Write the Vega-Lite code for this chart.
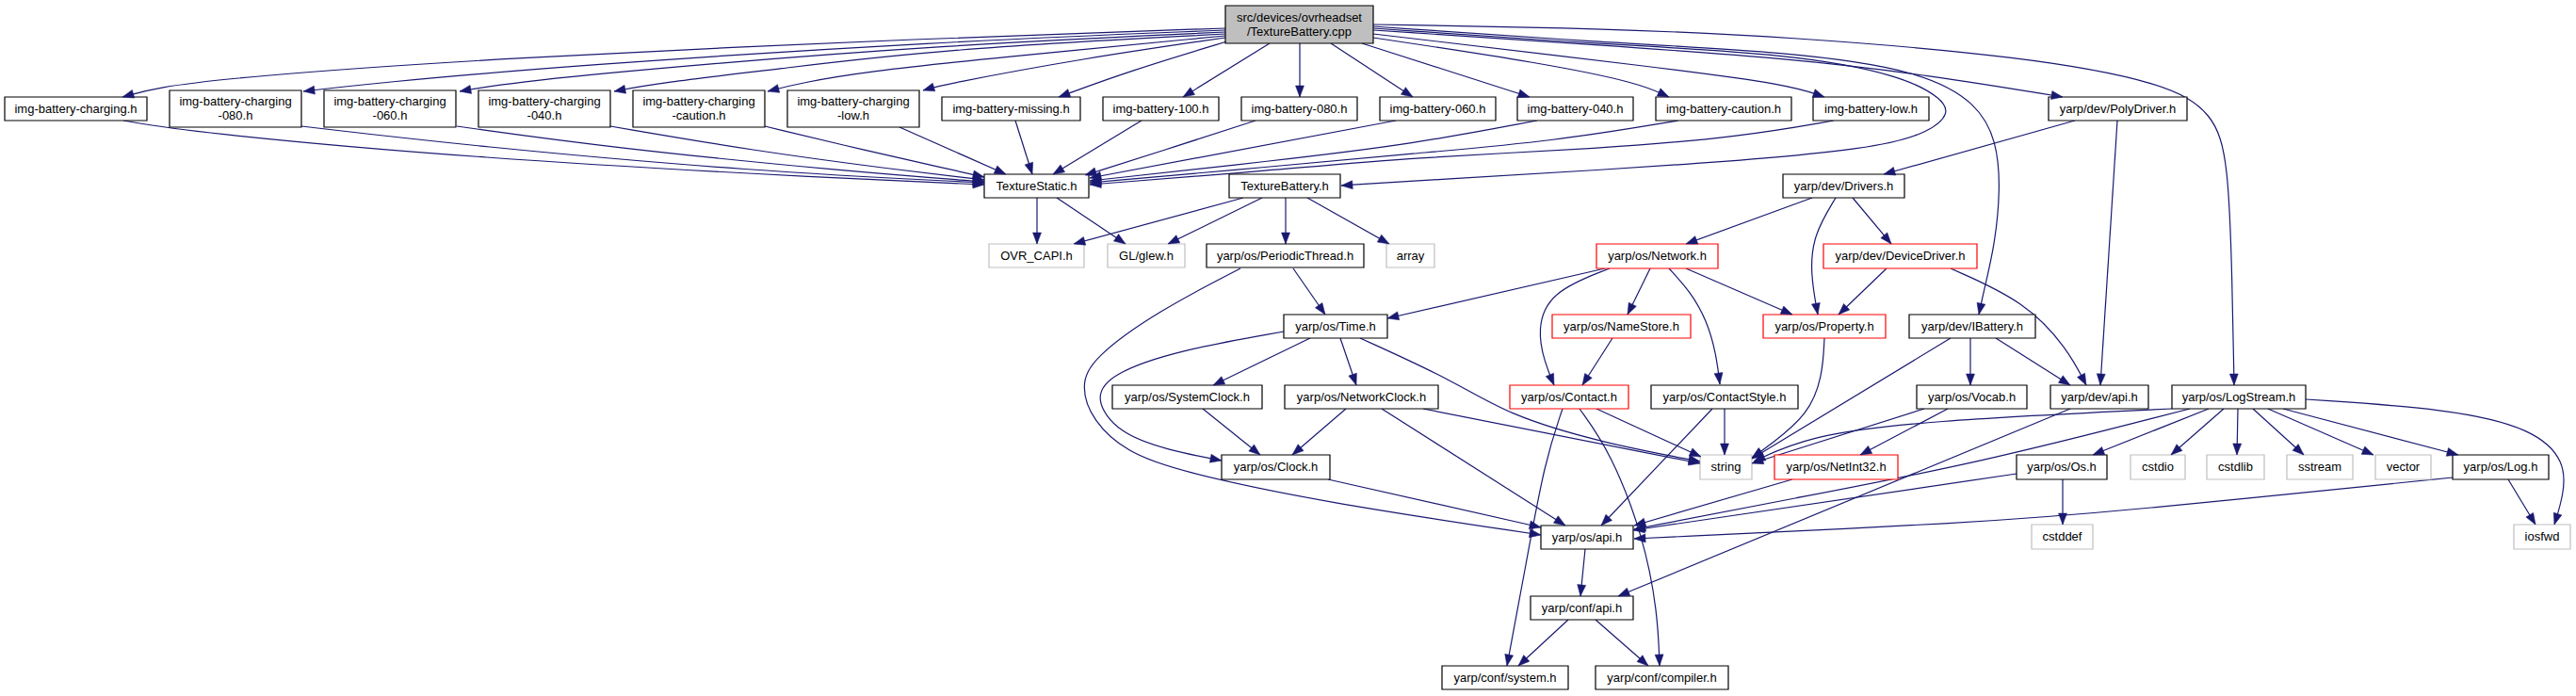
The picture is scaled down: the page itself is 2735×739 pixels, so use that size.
{
  "$schema": "https://vega.github.io/schema/vega-lite/v6.json",
  "width": 2735,
  "height": 739,
  "autosize": {"type": "fit", "contains": "padding"},
  "padding": 0,
  "background": "white",
  "config": {"view": {"stroke": null}},
  "datasets": {
    "nodes": [
      {"id": "root", "label": "src/devices/ovrheadset\n/TextureBattery.cpp", "x1": 1301, "x2": 1458, "y1": 6, "y2": 46, "kind": "root"},
      {"id": "c", "label": "img-battery-charging.h", "x1": 5, "x2": 156, "y1": 103, "y2": 128, "kind": "normal"},
      {"id": "c080", "label": "img-battery-charging\n-080.h", "x1": 180, "x2": 320, "y1": 96, "y2": 135, "kind": "normal"},
      {"id": "c060", "label": "img-battery-charging\n-060.h", "x1": 344, "x2": 484, "y1": 96, "y2": 135, "kind": "normal"},
      {"id": "c040", "label": "img-battery-charging\n-040.h", "x1": 508, "x2": 648, "y1": 96, "y2": 135, "kind": "normal"},
      {"id": "ccau", "label": "img-battery-charging\n-caution.h", "x1": 672, "x2": 812, "y1": 96, "y2": 135, "kind": "normal"},
      {"id": "clow", "label": "img-battery-charging\n-low.h", "x1": 836, "x2": 976, "y1": 96, "y2": 135, "kind": "normal"},
      {"id": "miss", "label": "img-battery-missing.h", "x1": 1000, "x2": 1147, "y1": 103, "y2": 128, "kind": "normal"},
      {"id": "b100", "label": "img-battery-100.h", "x1": 1171, "x2": 1294, "y1": 103, "y2": 128, "kind": "normal"},
      {"id": "b080", "label": "img-battery-080.h", "x1": 1318, "x2": 1441, "y1": 103, "y2": 128, "kind": "normal"},
      {"id": "b060", "label": "img-battery-060.h", "x1": 1465, "x2": 1588, "y1": 103, "y2": 128, "kind": "normal"},
      {"id": "b040", "label": "img-battery-040.h", "x1": 1611, "x2": 1734, "y1": 103, "y2": 128, "kind": "normal"},
      {"id": "bcau", "label": "img-battery-caution.h", "x1": 1758, "x2": 1902, "y1": 103, "y2": 128, "kind": "normal"},
      {"id": "blow", "label": "img-battery-low.h", "x1": 1925, "x2": 2048, "y1": 103, "y2": 128, "kind": "normal"},
      {"id": "poly", "label": "yarp/dev/PolyDriver.h", "x1": 2175, "x2": 2322, "y1": 103, "y2": 128, "kind": "normal"},
      {"id": "ts", "label": "TextureStatic.h", "x1": 1045, "x2": 1156, "y1": 185, "y2": 210, "kind": "normal"},
      {"id": "tb", "label": "TextureBattery.h", "x1": 1305, "x2": 1423, "y1": 185, "y2": 210, "kind": "normal"},
      {"id": "drv", "label": "yarp/dev/Drivers.h", "x1": 1893, "x2": 2022, "y1": 185, "y2": 210, "kind": "normal"},
      {"id": "ovr", "label": "OVR_CAPI.h", "x1": 1050, "x2": 1151, "y1": 259, "y2": 284, "kind": "system"},
      {"id": "glew", "label": "GL/glew.h", "x1": 1176, "x2": 1258, "y1": 259, "y2": 284, "kind": "system"},
      {"id": "pt", "label": "yarp/os/PeriodicThread.h", "x1": 1281, "x2": 1448, "y1": 259, "y2": 284, "kind": "normal"},
      {"id": "arr", "label": "array", "x1": 1472, "x2": 1523, "y1": 259, "y2": 284, "kind": "system"},
      {"id": "net", "label": "yarp/os/Network.h", "x1": 1695, "x2": 1824, "y1": 259, "y2": 285, "kind": "hidden"},
      {"id": "dd", "label": "yarp/dev/DeviceDriver.h", "x1": 1936, "x2": 2099, "y1": 259, "y2": 285, "kind": "hidden"},
      {"id": "time", "label": "yarp/os/Time.h", "x1": 1363, "x2": 1473, "y1": 334, "y2": 359, "kind": "normal"},
      {"id": "ns", "label": "yarp/os/NameStore.h", "x1": 1648, "x2": 1795, "y1": 334, "y2": 359, "kind": "hidden"},
      {"id": "prop", "label": "yarp/os/Property.h", "x1": 1872, "x2": 2002, "y1": 334, "y2": 359, "kind": "hidden"},
      {"id": "ibat", "label": "yarp/dev/IBattery.h", "x1": 2027, "x2": 2161, "y1": 334, "y2": 359, "kind": "normal"},
      {"id": "sc", "label": "yarp/os/SystemClock.h", "x1": 1181, "x2": 1340, "y1": 409, "y2": 434, "kind": "normal"},
      {"id": "nc", "label": "yarp/os/NetworkClock.h", "x1": 1364, "x2": 1527, "y1": 409, "y2": 434, "kind": "normal"},
      {"id": "ct", "label": "yarp/os/Contact.h", "x1": 1603, "x2": 1729, "y1": 409, "y2": 434, "kind": "hidden"},
      {"id": "cs", "label": "yarp/os/ContactStyle.h", "x1": 1753, "x2": 1909, "y1": 409, "y2": 434, "kind": "normal"},
      {"id": "voc", "label": "yarp/os/Vocab.h", "x1": 2035, "x2": 2152, "y1": 409, "y2": 434, "kind": "normal"},
      {"id": "dapi", "label": "yarp/dev/api.h", "x1": 2177, "x2": 2281, "y1": 409, "y2": 434, "kind": "normal"},
      {"id": "ls", "label": "yarp/os/LogStream.h", "x1": 2306, "x2": 2448, "y1": 409, "y2": 434, "kind": "normal"},
      {"id": "clk", "label": "yarp/os/Clock.h", "x1": 1297, "x2": 1412, "y1": 483, "y2": 509, "kind": "normal"},
      {"id": "str", "label": "string", "x1": 1805, "x2": 1860, "y1": 483, "y2": 509, "kind": "system"},
      {"id": "ni", "label": "yarp/os/NetInt32.h", "x1": 1884, "x2": 2015, "y1": 483, "y2": 509, "kind": "hidden"},
      {"id": "os", "label": "yarp/os/Os.h", "x1": 2141, "x2": 2237, "y1": 483, "y2": 509, "kind": "normal"},
      {"id": "cstdio", "label": "cstdio", "x1": 2262, "x2": 2320, "y1": 483, "y2": 509, "kind": "system"},
      {"id": "cstdlib", "label": "cstdlib", "x1": 2343, "x2": 2404, "y1": 483, "y2": 509, "kind": "system"},
      {"id": "sstream", "label": "sstream", "x1": 2428, "x2": 2498, "y1": 483, "y2": 509, "kind": "system"},
      {"id": "vector", "label": "vector", "x1": 2522, "x2": 2581, "y1": 483, "y2": 509, "kind": "system"},
      {"id": "log", "label": "yarp/os/Log.h", "x1": 2604, "x2": 2706, "y1": 483, "y2": 509, "kind": "normal"},
      {"id": "osapi", "label": "yarp/os/api.h", "x1": 1636, "x2": 1734, "y1": 558, "y2": 583, "kind": "normal"},
      {"id": "cstddef", "label": "cstddef", "x1": 2157, "x2": 2222, "y1": 557, "y2": 583, "kind": "system"},
      {"id": "iosfwd", "label": "iosfwd", "x1": 2669, "x2": 2729, "y1": 557, "y2": 583, "kind": "system"},
      {"id": "capi", "label": "yarp/conf/api.h", "x1": 1625, "x2": 1734, "y1": 633, "y2": 658, "kind": "normal"},
      {"id": "csys", "label": "yarp/conf/system.h", "x1": 1531, "x2": 1665, "y1": 707, "y2": 732, "kind": "normal"},
      {"id": "comp", "label": "yarp/conf/compiler.h", "x1": 1694, "x2": 1835, "y1": 707, "y2": 732, "kind": "normal"}
    ],
    "edges": [
      {"e": "r1", "xs": [1301, 1000, 520, 250, 165, 130], "ys": [30, 40, 62, 82, 93, 103]},
      {"e": "r2", "xs": [1301, 1000, 600, 400, 322], "ys": [32, 44, 70, 88, 97]},
      {"e": "r3", "xs": [1301, 1000, 700, 540, 488], "ys": [34, 48, 72, 88, 97]},
      {"e": "r4", "xs": [1301, 1000, 820, 700, 652], "ys": [36, 52, 74, 88, 97]},
      {"e": "r5", "xs": [1301, 1050, 920, 850, 815], "ys": [38, 62, 76, 88, 97]},
      {"e": "r6", "xs": [1301, 1150, 1000, 980], "ys": [40, 62, 90, 96]},
      {"e": "r7", "xs": [1306, 1200, 1124], "ys": [43, 75, 103]},
      {"e": "r8", "xs": [1348, 1256], "ys": [46, 103]},
      {"e": "r9", "xs": [1380, 1380], "ys": [46, 103]},
      {"e": "r10", "xs": [1413, 1500], "ys": [46, 103]},
      {"e": "r11", "xs": [1446, 1540, 1624], "ys": [46, 76, 103]},
      {"e": "r12", "xs": [1458, 1638, 1740, 1772], "ys": [40, 67, 88, 103]},
      {"e": "r13", "xs": [1458, 1765, 1900, 1937], "ys": [36, 72, 90, 103]},
      {"e": "r14", "xs": [1458, 1700, 1900, 2050, 2190], "ys": [32, 48, 62, 80, 103]},
      {"e": "r15", "xs": [1458, 1700, 1900, 2020, 2062, 2070, 2050, 1990, 1812, 1500, 1424], "ys": [30, 47, 57, 80, 105, 120, 140, 158, 174, 192, 197]},
      {"e": "r16", "xs": [1458, 1700, 1900, 2040, 2100, 2120, 2124, 2118, 2106, 2101], "ys": [28, 45, 55, 75, 110, 150, 200, 260, 310, 334]},
      {"e": "r17", "xs": [1458, 1700, 1900, 2150, 2300, 2350, 2366, 2370, 2372], "ys": [26, 30, 39, 60, 88, 120, 170, 300, 409]},
      {"e": "c1", "xs": [131, 200, 500, 900, 1045], "ys": [128, 140, 168, 190, 196]},
      {"e": "c2", "xs": [320, 500, 800, 1045], "ys": [134, 155, 182, 194]},
      {"e": "c3", "xs": [485, 650, 900, 1045], "ys": [134, 157, 182, 193]},
      {"e": "c4", "xs": [648, 800, 950, 1045], "ys": [134, 160, 180, 191]},
      {"e": "c5", "xs": [812, 920, 1000, 1045], "ys": [134, 160, 178, 188]},
      {"e": "c6", "xs": [955, 1068], "ys": [135, 185]},
      {"e": "m1", "xs": [1078, 1096], "ys": [128, 185]},
      {"e": "b1", "xs": [1212, 1118], "ys": [128, 185]},
      {"e": "b2", "xs": [1333, 1250, 1152], "ys": [128, 155, 186]},
      {"e": "b3", "xs": [1482, 1157], "ys": [128, 189]},
      {"e": "b4", "xs": [1632, 1500, 1350, 1157], "ys": [128, 153, 171, 192]},
      {"e": "b5", "xs": [1782, 1650, 1500, 1350, 1157], "ys": [128, 150, 163, 177, 194]},
      {"e": "b6", "xs": [1947, 1850, 1700, 1500, 1350, 1157], "ys": [128, 145, 158, 167, 181, 196]},
      {"e": "t1", "xs": [1101, 1101], "ys": [210, 259]},
      {"e": "t2", "xs": [1122, 1195], "ys": [210, 259]},
      {"e": "t3", "xs": [1320, 1140], "ys": [210, 259]},
      {"e": "t4", "xs": [1340, 1240], "ys": [210, 259]},
      {"e": "t5", "xs": [1365, 1365], "ys": [210, 259]},
      {"e": "t6", "xs": [1388, 1475], "ys": [210, 259]},
      {"e": "d1", "xs": [1924, 1790], "ys": [210, 259]},
      {"e": "d2", "xs": [1949, 1925, 1922, 1930], "ys": [210, 250, 290, 334]},
      {"e": "d3", "xs": [1967, 2008], "ys": [210, 259]},
      {"e": "p1", "xs": [2203, 2000], "ys": [128, 185]},
      {"e": "p2", "xs": [2248, 2230], "ys": [128, 409]},
      {"e": "dd1", "xs": [2003, 1952], "ys": [285, 334]},
      {"e": "dd2", "xs": [2071, 2150, 2195, 2215], "ys": [285, 320, 370, 409]},
      {"e": "n1", "xs": [1704, 1473], "ys": [285, 338]},
      {"e": "n2", "xs": [1709, 1645, 1632, 1640, 1650], "ys": [285, 310, 350, 385, 409]},
      {"e": "n3", "xs": [1752, 1728], "ys": [285, 334]},
      {"e": "n4", "xs": [1772, 1795, 1812, 1822, 1826], "ys": [285, 310, 340, 375, 408]},
      {"e": "n5", "xs": [1790, 1903], "ys": [285, 334]},
      {"e": "ns1", "xs": [1712, 1680], "ys": [359, 409]},
      {"e": "pt1", "xs": [1373, 1407], "ys": [285, 334]},
      {"e": "pt2", "xs": [1317, 1230, 1160, 1147, 1160, 1196, 1250, 1402, 1636], "ys": [285, 330, 380, 410, 447, 480, 500, 533, 568]},
      {"e": "tm1", "xs": [1363, 1250, 1179, 1161, 1187, 1240, 1297], "ys": [352, 372, 397, 423, 460, 478, 489]},
      {"e": "tm2", "xs": [1391, 1288], "ys": [359, 409]},
      {"e": "tm3", "xs": [1423, 1440], "ys": [359, 409]},
      {"e": "tm4", "xs": [1444, 1545, 1600, 1700, 1805], "ys": [359, 405, 440, 470, 490]},
      {"e": "sc1", "xs": [1277, 1338], "ys": [434, 483]},
      {"e": "nc1", "xs": [1429, 1372], "ys": [434, 483]},
      {"e": "nc2", "xs": [1467, 1662], "ys": [434, 558]},
      {"e": "nc3", "xs": [1511, 1805], "ys": [434, 492]},
      {"e": "ct1", "xs": [1695, 1806], "ys": [434, 485]},
      {"e": "ct2", "xs": [1659, 1640, 1620, 1600], "ys": [434, 490, 600, 707]},
      {"e": "ct3", "xs": [1677, 1710, 1745, 1760, 1762], "ys": [434, 480, 570, 650, 707]},
      {"e": "cs1", "xs": [1818, 1700], "ys": [434, 558]},
      {"e": "cs2", "xs": [1831, 1831], "ys": [434, 483]},
      {"e": "pr1", "xs": [1937, 1935, 1920, 1880, 1860], "ys": [359, 400, 440, 472, 486]},
      {"e": "ib1", "xs": [2071, 1860], "ys": [359, 487]},
      {"e": "ib2", "xs": [2092, 2092], "ys": [359, 409]},
      {"e": "ib3", "xs": [2119, 2198], "ys": [359, 409]},
      {"e": "v1", "xs": [2043, 1860], "ys": [434, 492]},
      {"e": "v2", "xs": [2068, 1975], "ys": [434, 483]},
      {"e": "da1", "xs": [2198, 1718], "ys": [434, 633]},
      {"e": "l1", "xs": [2306, 2038, 1919, 1862], "ys": [434, 447, 463, 490]},
      {"e": "l2", "xs": [2325, 2100, 1900, 1735], "ys": [434, 492, 530, 562]},
      {"e": "l3", "xs": [2345, 2222], "ys": [434, 483]},
      {"e": "l4", "xs": [2361, 2305], "ys": [434, 483]},
      {"e": "l5", "xs": [2376, 2375], "ys": [434, 483]},
      {"e": "l6", "xs": [2392, 2446], "ys": [434, 483]},
      {"e": "l7", "xs": [2408, 2520], "ys": [434, 483]},
      {"e": "l8", "xs": [2424, 2610], "ys": [434, 483]},
      {"e": "l9", "xs": [2448, 2600, 2690, 2724, 2722, 2712], "ys": [424, 434, 455, 490, 525, 557]},
      {"e": "o1", "xs": [2141, 1734], "ys": [503, 563]},
      {"e": "o2", "xs": [2190, 2190], "ys": [509, 557]},
      {"e": "lg1", "xs": [2604, 2250, 2100, 1735], "ys": [507, 543, 555, 572]},
      {"e": "lg2", "xs": [2663, 2692], "ys": [509, 557]},
      {"e": "ni1", "xs": [1903, 1735], "ys": [509, 558]},
      {"e": "ck1", "xs": [1410, 1636], "ys": [509, 560]},
      {"e": "a1", "xs": [1683, 1678], "ys": [583, 633]},
      {"e": "a2", "xs": [1665, 1612], "ys": [658, 707]},
      {"e": "a3", "xs": [1694, 1750], "ys": [658, 707]}
    ]
  },
  "layer": [
    {
      "data": {"name": "edges"},
      "transform": [
        {"flatten": ["xs", "ys"], "as": ["x", "y"]},
        {"window": [{"op": "row_number", "as": "k"}], "groupby": ["e"]}
      ],
      "mark": {"type": "line", "interpolate": "basis", "stroke": "#191970", "strokeWidth": 1.2},
      "encoding": {
        "x": {"field": "x", "type": "quantitative", "scale": {"domain": [0, 2735], "nice": false, "zero": false}, "axis": null},
        "y": {"field": "y", "type": "quantitative", "scale": {"domain": [0, 739], "nice": false, "zero": false, "reverse": true}, "axis": null},
        "detail": {"field": "e", "type": "nominal"},
        "order": {"field": "k", "type": "quantitative"}
      }
    },
    {
      "data": {"name": "nodes"},
      "mark": {"type": "rect", "strokeWidth": 1.2},
      "encoding": {
        "x": {"field": "x1", "type": "quantitative", "axis": null},
        "x2": {"field": "x2"},
        "y": {"field": "y1", "type": "quantitative", "axis": null},
        "y2": {"field": "y2"},
        "fill": {"field": "kind", "type": "nominal", "scale": {"domain": ["root", "normal", "hidden", "system"], "range": ["#bfbfbf", "#ffffff", "#ffffff", "#ffffff"]}, "legend": null},
        "stroke": {"field": "kind", "type": "nominal", "scale": {"domain": ["root", "normal", "hidden", "system"], "range": ["#000000", "#000000", "#ff0000", "#bfbfbf"]}, "legend": null}
      }
    },
    {
      "data": {"name": "nodes"},
      "transform": [
        {"filter": "indexof(datum.label, '\\n') < 0"},
        {"calculate": "(datum.x1 + datum.x2) / 2", "as": "cx"},
        {"calculate": "(datum.y1 + datum.y2) / 2", "as": "cy"}
      ],
      "mark": {"type": "text", "font": "Liberation Sans", "fontSize": 13, "align": "center", "baseline": "middle", "color": "#000000"},
      "encoding": {
        "x": {"field": "cx", "type": "quantitative", "axis": null},
        "y": {"field": "cy", "type": "quantitative", "axis": null},
        "text": {"field": "label", "type": "nominal"}
      }
    },
    {
      "data": {"name": "nodes"},
      "transform": [
        {"filter": "indexof(datum.label, '\\n') >= 0"},
        {"calculate": "(datum.x1 + datum.x2) / 2", "as": "cx"},
        {"calculate": "(datum.y1 + datum.y2) / 2", "as": "cy"}
      ],
      "mark": {"type": "text", "font": "Liberation Sans", "fontSize": 13, "align": "center", "baseline": "middle", "lineBreak": "\n", "lineHeight": 15, "dy": -7.5, "color": "#000000"},
      "encoding": {
        "x": {"field": "cx", "type": "quantitative", "axis": null},
        "y": {"field": "cy", "type": "quantitative", "axis": null},
        "text": {"field": "label", "type": "nominal"}
      }
    },
    {
      "data": {"name": "edges"},
      "transform": [
        {"calculate": "peek(datum.xs)", "as": "tx"},
        {"calculate": "peek(datum.ys)", "as": "ty"},
        {"calculate": "datum.xs[length(datum.xs) - 2]", "as": "px"},
        {"calculate": "datum.ys[length(datum.ys) - 2]", "as": "py"},
        {"calculate": "atan2(-(datum.tx - datum.px), datum.ty - datum.py) * 180 / PI", "as": "a"}
      ],
      "mark": {"type": "point", "shape": "M0,0L-0.9,-2.4L0.9,-2.4Z", "filled": true, "size": 100, "opacity": 1, "fill": "#191970", "stroke": "#191970", "strokeWidth": 0.5},
      "encoding": {
        "x": {"field": "tx", "type": "quantitative", "axis": null},
        "y": {"field": "ty", "type": "quantitative", "axis": null},
        "angle": {"field": "a", "type": "quantitative", "scale": null}
      }
    }
  ]
}
